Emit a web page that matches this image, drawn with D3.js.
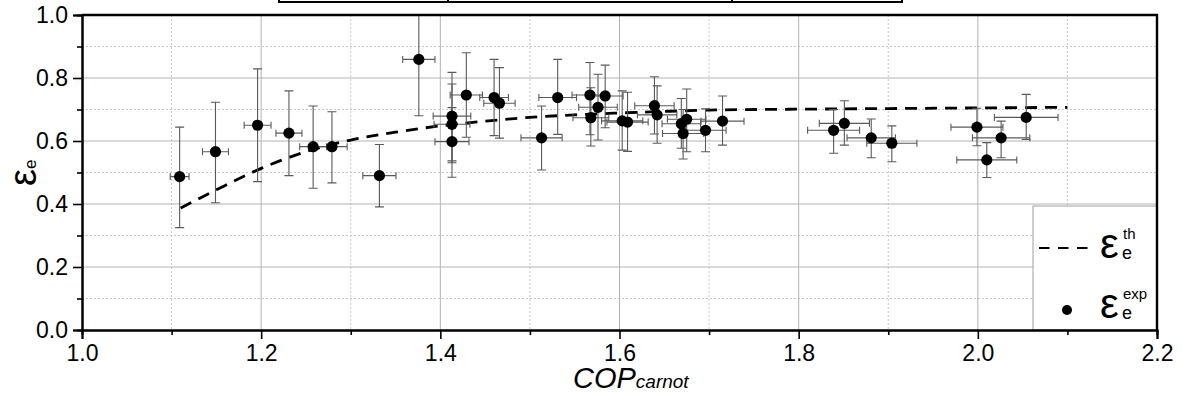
<!DOCTYPE html>
<html>
<head>
<meta charset="utf-8">
<script src="https://cdn.jsdelivr.net/npm/d3@7"></script>
<style>
  body { margin: 0; background: #fff; }
  svg { display: block; font-family: "Liberation Sans", Arial, sans-serif; }
</style>
</head>
<body>
<script>
// experimental points: COP_carnot, efficiency and error bars
const copX   = [1.109, 1.149, 1.196, 1.231, 1.258, 1.279, 1.332, 1.376, 1.413, 1.413, 1.413, 1.429, 1.460, 1.466,
                1.513, 1.531, 1.567, 1.584, 1.576, 1.568, 1.603, 1.609, 1.639, 1.642, 1.669, 1.675, 1.671, 1.696,
                1.715, 1.839, 1.851, 1.881, 1.904, 1.999, 2.010, 2.026, 2.054];
const epsExp = [0.487, 0.566, 0.650, 0.625, 0.582, 0.582, 0.490, 0.859, 0.679, 0.653, 0.598, 0.746, 0.738, 0.720,
                0.610, 0.738, 0.746, 0.743, 0.707, 0.674, 0.664, 0.660, 0.712, 0.683, 0.655, 0.669, 0.624, 0.634,
                0.663, 0.634, 0.656, 0.610, 0.593, 0.644, 0.540, 0.610, 0.675];
const epsHi  = [0.644, 0.723, 0.829, 0.759, 0.711, 0.693, 0.589, 1.050, 0.818, 0.781, 0.706, 0.880, 0.859, 0.833,
                0.711, 0.859, 0.849, 0.841, 0.812, 0.769, 0.759, 0.755, 0.804, 0.775, 0.735, 0.765, 0.700, 0.702,
                0.743, 0.700, 0.728, 0.670, 0.648, 0.704, 0.595, 0.663, 0.748];
const epsLo  = [0.325, 0.404, 0.471, 0.490, 0.450, 0.467, 0.391, 0.680, 0.537, 0.531, 0.485, 0.612, 0.617, 0.609,
                0.508, 0.621, 0.620, 0.642, 0.603, 0.584, 0.571, 0.567, 0.622, 0.593, 0.577, 0.566, 0.543, 0.566,
                0.587, 0.561, 0.587, 0.547, 0.534, 0.585, 0.484, 0.547, 0.605];
const copErr = [0.0105, 0.0145, 0.015, 0.0145, 0.015, 0.017, 0.0185, 0.018, 0.021, 0.020, 0.019, 0.018, 0.016, 0.0175,
                0.023, 0.021, 0.020, 0.020, 0.0215, 0.020, 0.023, 0.023, 0.022, 0.022, 0.0215, 0.0215, 0.023, 0.023,
                0.024, 0.029, 0.028, 0.027, 0.028, 0.029, 0.0335, 0.032, 0.0355];

// theoretical curve
const thX = [1.11, 1.15, 1.20, 1.25, 1.30, 1.35, 1.40, 1.45, 1.50, 1.55, 1.60, 1.65, 1.70, 1.80, 1.90, 2.00, 2.10];
const thY = [0.387, 0.445, 0.513, 0.566, 0.603, 0.628, 0.648, 0.663, 0.675, 0.683, 0.689, 0.694, 0.698, 0.701, 0.703, 0.705, 0.707];

const xTicks = [1.0, 1.2, 1.4, 1.6, 1.8, 2.0, 2.2];
const yTicks = [0.0, 0.2, 0.4, 0.6, 0.8, 1.0];
const xMinor = [1.1, 1.3, 1.5, 1.7, 1.9, 2.1];
const yMinor = [0.1, 0.3, 0.5, 0.7, 0.9];

const W = 1183, H = 395;
const margin = { top: 15, right: 26, bottom: 65, left: 82 },
      width = W - margin.left - margin.right,
      height = H - margin.top - margin.bottom;

const svg = d3.select('body').append('svg')
    .attr('width', W)
    .attr('height', H);

// cropped table border at the very top
svg.append('path')
    .attr('d', 'M279,-5 V2 H902 V-5 M448,-5 V2 M732,-5 V2')
    .attr('fill', 'none')
    .attr('stroke', '#000')
    .attr('stroke-width', 2);

const g = svg.append('g')
    .attr('transform', `translate(${margin.left},${margin.top})`);

const x = d3.scaleLinear().domain([1.0, 2.2]).range([0, width]);
const y = d3.scaleLinear().domain([0, 1.0]).range([height, 0]);

g.append('clipPath').attr('id', 'plotclip')
  .append('rect').attr('width', width).attr('height', height);

// grid
const grid = g.append('g');
grid.selectAll('.vminor').data(xMinor).enter().append('line')
    .attr('x1', d => x(d)).attr('x2', d => x(d)).attr('y1', 0).attr('y2', height)
    .attr('stroke', '#c8c8c8').attr('stroke-dasharray', '2,2');
grid.selectAll('.hminor').data(yMinor).enter().append('line')
    .attr('x1', 0).attr('x2', width).attr('y1', d => y(d)).attr('y2', d => y(d))
    .attr('stroke', '#c8c8c8').attr('stroke-dasharray', '2,2');
grid.selectAll('.vmajor').data(xTicks.slice(1, -1)).enter().append('line')
    .attr('x1', d => x(d)).attr('x2', d => x(d)).attr('y1', 0).attr('y2', height)
    .attr('stroke', '#b4b4b4');
grid.selectAll('.hmajor').data(yTicks.slice(1, -1)).enter().append('line')
    .attr('x1', 0).attr('x2', width).attr('y1', d => y(d)).attr('y2', d => y(d))
    .attr('stroke', '#b4b4b4');

const plot = g.append('g').attr('clip-path', 'url(#plotclip)');

// theory line
const th = thX.map((d, i) => [d, thY[i]]);
plot.append('path')
    .datum(th)
    .attr('d', d3.line().x(d => x(d[0])).y(d => y(d[1])).curve(d3.curveMonotoneX))
    .attr('fill', 'none')
    .attr('stroke', '#000')
    .attr('stroke-width', 2.8)
    .attr('stroke-dasharray', '12,8');

// error bars
const pts = copX.map((d, i) => ({ x: d, y: epsExp[i], lo: epsLo[i], hi: epsHi[i], dx: copErr[i] }));
const eb = plot.append('g').attr('stroke', '#5a5a5a').attr('stroke-width', 1.1).attr('fill', 'none');
eb.selectAll('path').data(pts).enter().append('path')
    .attr('d', p => {
        const cx = x(p.x), cy = y(p.y), t = y(p.hi), b = y(p.lo), l = x(p.x - p.dx), r = x(p.x + p.dx);
        return `M${cx},${t}V${b}M${cx - 4.5},${t}H${cx + 4.5}M${cx - 4.5},${b}H${cx + 4.5}` +
               `M${l},${cy}H${r}M${l},${cy - 3.5}V${cy + 3.5}M${r},${cy - 3.5}V${cy + 3.5}`;
    });

// points
plot.selectAll('circle').data(pts).enter().append('circle')
    .attr('cx', p => x(p.x))
    .attr('cy', p => y(p.y))
    .attr('r', 5.6)
    .attr('fill', '#000');

// legend
const lg = g.append('g').attr('transform', `translate(${width - 124},${height - 124})`);
lg.append('rect').attr('width', 124).attr('height', 124)
    .attr('fill', '#fff').attr('stroke', '#a0a0a0').attr('stroke-width', 1);
lg.append('line').attr('x1', 6).attr('x2', 63).attr('y1', 42).attr('y2', 42)
    .attr('stroke', '#000').attr('stroke-width', 2).attr('stroke-dasharray', '10.5,8.5');
lg.append('text').attr('x', 67).attr('y', 52).attr('font-size', 42).text('ε');
lg.append('text').attr('x', 89).attr('y', 53).attr('font-size', 18).text('e');
lg.append('text').attr('x', 90).attr('y', 33).attr('font-size', 15).text('th');
lg.append('circle').attr('cx', 34).attr('cy', 104).attr('r', 5).attr('fill', '#000');
lg.append('text').attr('x', 67).attr('y', 112).attr('font-size', 42).text('ε');
lg.append('text').attr('x', 89).attr('y', 113).attr('font-size', 18).text('e');
lg.append('text').attr('x', 90).attr('y', 93).attr('font-size', 15).text('exp');

// axes
g.append('g')
    .attr('transform', `translate(0,${height})`)
    .call(d3.axisBottom(x).tickValues(xTicks).tickFormat(d3.format('.1f')).tickSize(9).tickPadding(6));
g.append('g')
    .attr('transform', `translate(0,${height})`)
    .call(d3.axisBottom(x).tickValues(xMinor).tickFormat('').tickSize(5));
g.append('g')
    .call(d3.axisLeft(y).tickValues(yTicks).tickFormat(d3.format('.1f')).tickSize(9).tickPadding(5));
g.append('g')
    .call(d3.axisLeft(y).tickValues(yMinor).tickFormat('').tickSize(5));

g.selectAll('.domain').attr('stroke', '#000').attr('stroke-width', 2);
g.selectAll('.tick line').attr('stroke', '#000').attr('stroke-width', 1.6);
g.selectAll('.tick text').attr('font-size', 23).attr('fill', '#000')
    .attr('font-family', '"Liberation Sans", Arial, sans-serif');

// frame top and right
g.append('path')
    .attr('d', `M0,0H${width}V${height}`)
    .attr('fill', 'none').attr('stroke', '#000').attr('stroke-width', 2.4);

// axis titles
const xt = svg.append('text').attr('x', 573).attr('y', 388).attr('font-style', 'italic');
xt.append('tspan').attr('font-size', 29).text('COP');
xt.append('tspan').attr('font-size', 19).text('carnot');

const yt = svg.append('text').attr('transform', 'translate(36,186) rotate(-90)');
yt.append('tspan').attr('font-size', 38).text('ε');
yt.append('tspan').attr('font-size', 17).text('e');
</script>
</body>
</html>
